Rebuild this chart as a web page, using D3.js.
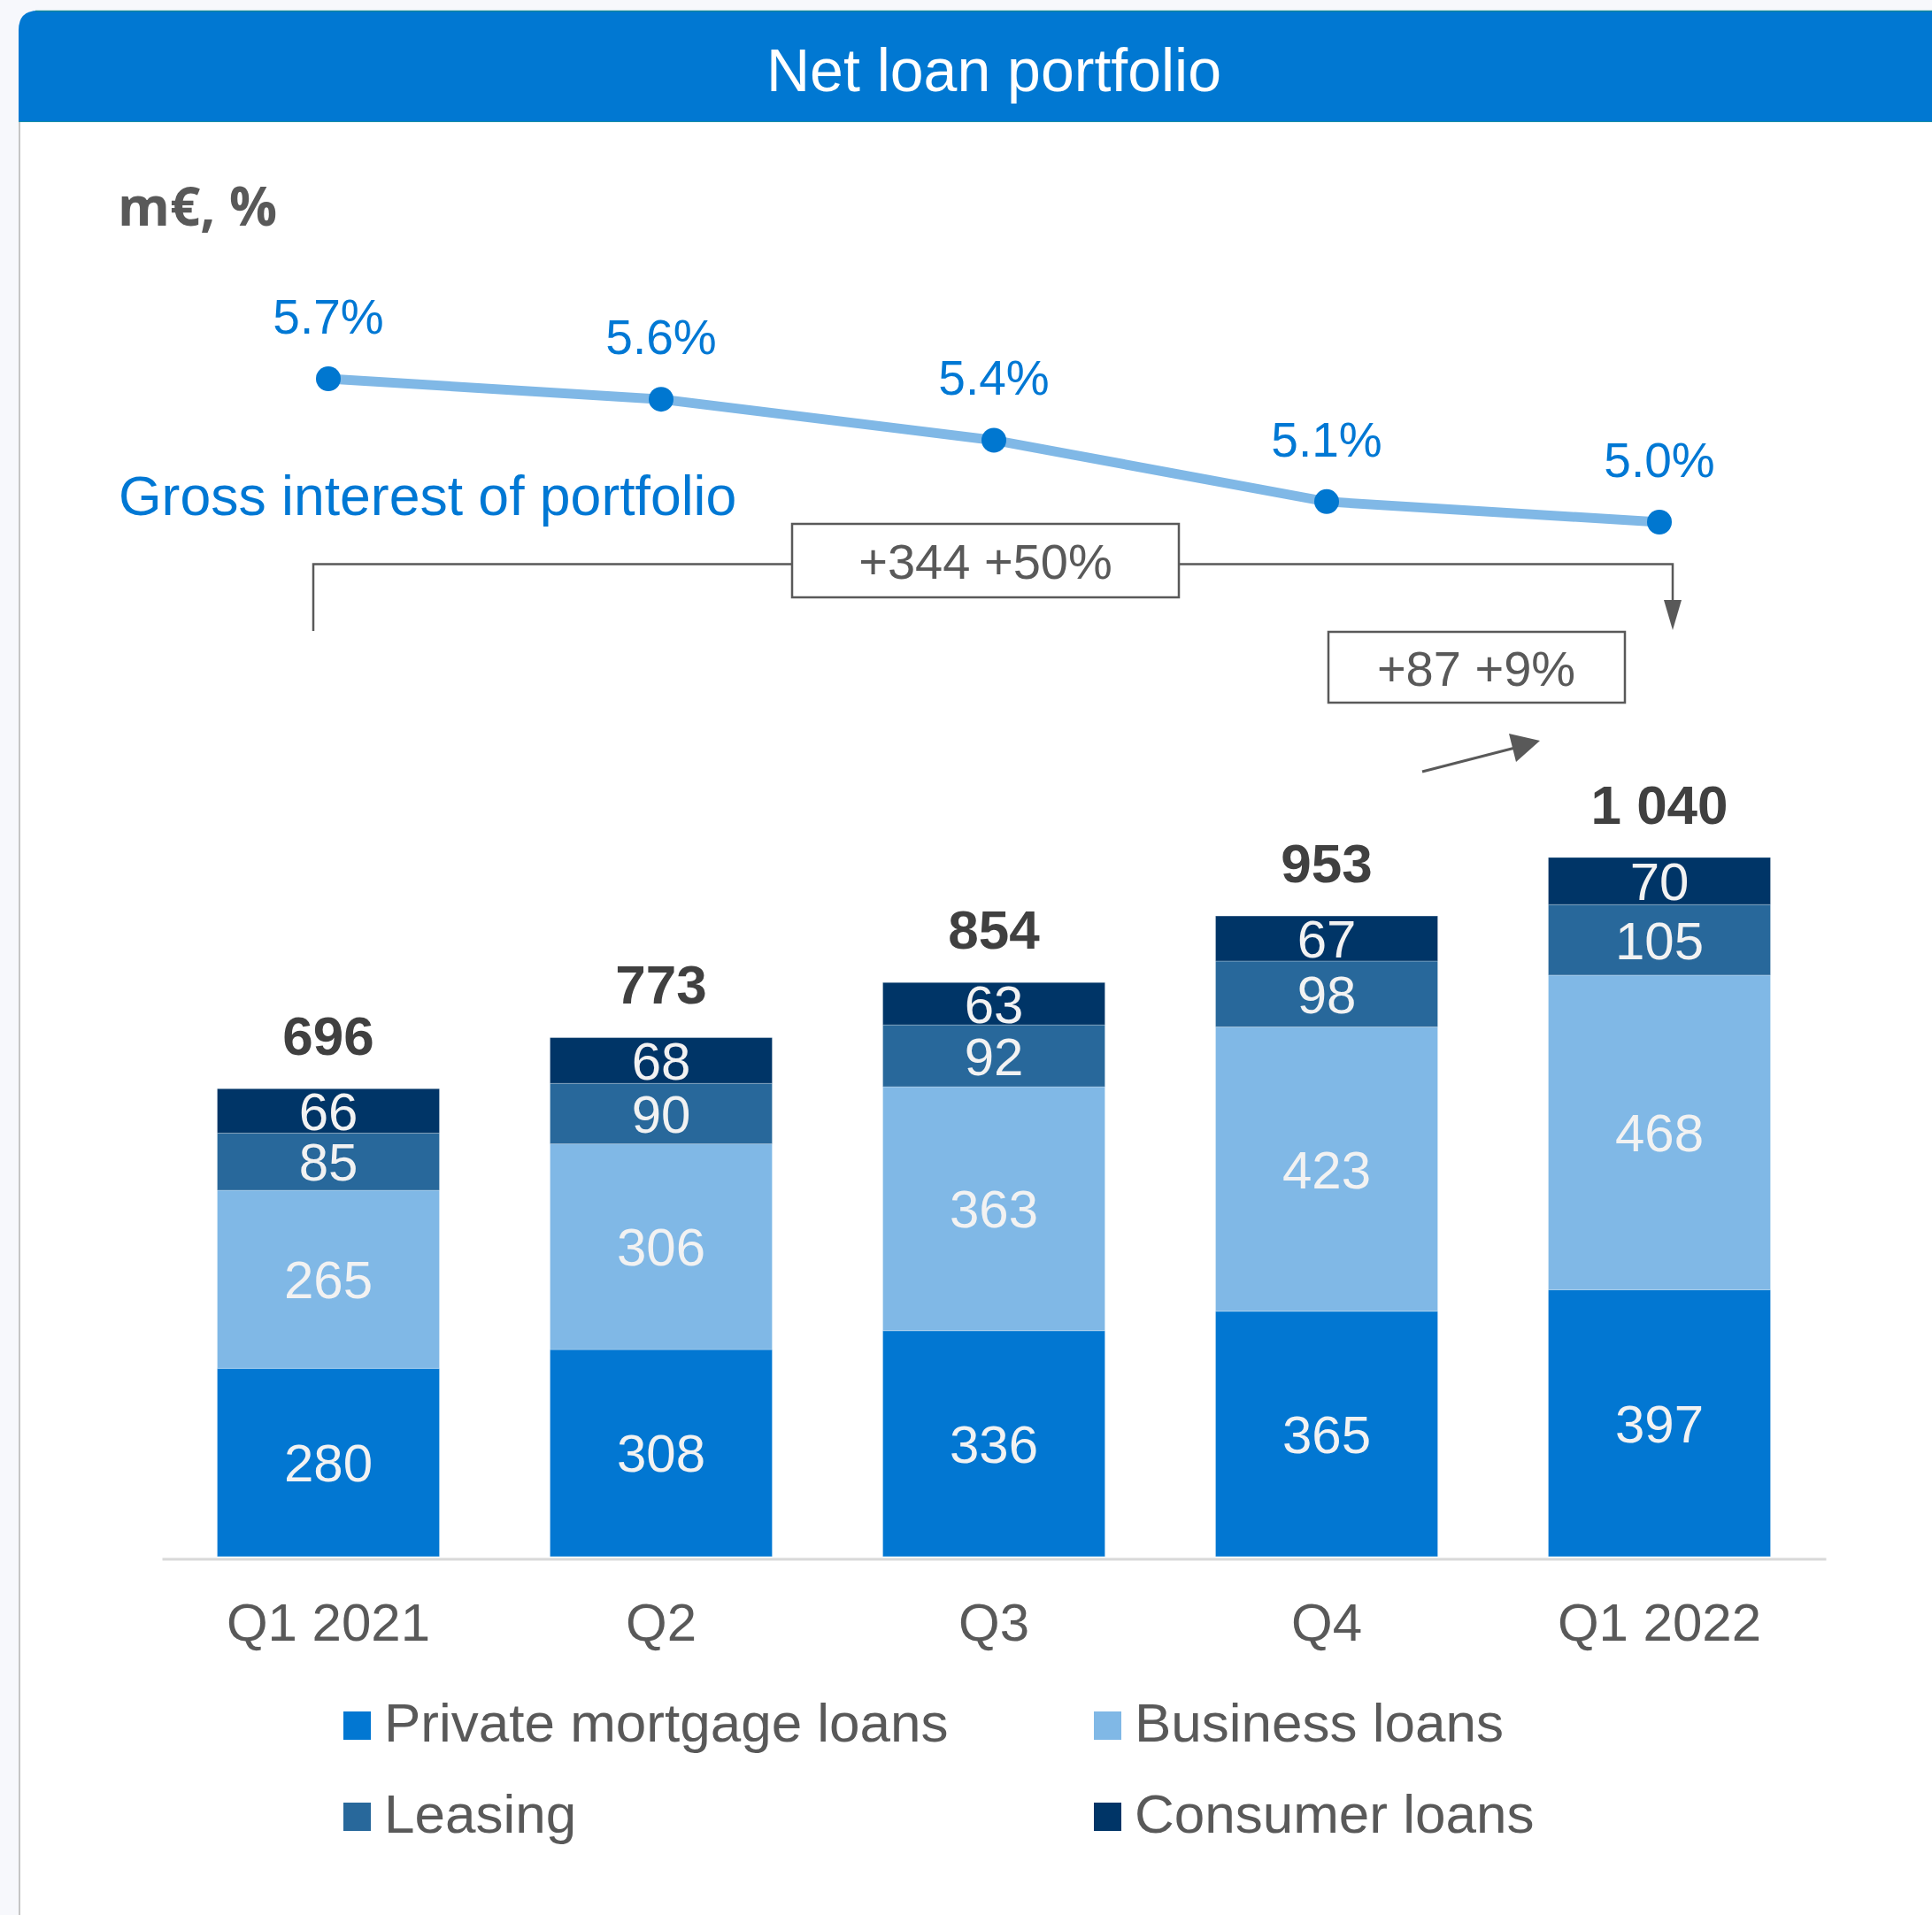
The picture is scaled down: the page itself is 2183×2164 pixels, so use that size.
<!DOCTYPE html>
<html>
<head>
<meta charset="utf-8">
<title>Net loan portfolio</title>
<script src="https://cdn.jsdelivr.net/npm/d3@7"></script>
<style>
  html, body { margin: 0; padding: 0; background: #f7f8fc; }
  svg { display: block; }
</style>
</head>
<body>
<svg id="chart" width="2183" height="2164"></svg>
<script>
// ---- data (m€, %) ----
const quarters = ["Q1 2021", "Q2", "Q3", "Q4", "Q1 2022"];
const mortgage = [280, 308, 336, 365, 397];
const business = [265, 306, 363, 423, 468];
const leasing  = [85, 90, 92, 98, 105];
const consumer = [66, 68, 63, 67, 70];
const totals   = [696, 773, 854, 953, 1040];
const grossInterest = [5.7, 5.6, 5.4, 5.1, 5.0];
const seriesNames = ["Private mortgage loans", "Business loans", "Leasing", "Consumer loans"];
const changeYear = "+344 +50%";
const changeQuarter = "+87 +9%";

// ---- styling ----
const W = 2183, H = 2164;
const FONT = "'Liberation Sans', Arial, Helvetica, sans-serif";
const seriesColors = ["#0277d2", "#80b8e6", "#28689b", "#003567"];
const GREY = "#595959";
const DARK = "#404040";
const BLUE = "#0078d4";

const svg = d3.select("#chart");

// ---- card and header ----
svg.append("rect").attr("x", 0).attr("y", 0).attr("width", W).attr("height", H).attr("fill", "#f7f8fc");
svg.append("rect").attr("x", 22).attr("y", 130).attr("width", W - 22).attr("height", H - 130).attr("fill", "#ffffff");
svg.append("line").attr("x1", 22).attr("x2", 22).attr("y1", 138).attr("y2", H)
  .attr("stroke", "#c6c6c6").attr("stroke-width", 2);
svg.append("path")
  .attr("d", `M21,138 V34 Q21,12 43,12 H${W} V138 Z`)
  .attr("fill", "#0178d2");
svg.append("line").attr("x1", 40).attr("x2", W).attr("y1", 12.5).attr("y2", 12.5)
  .attr("stroke", "#13879a").attr("stroke-width", 1.5);
svg.append("line").attr("x1", 21).attr("x2", W).attr("y1", 137.5).attr("y2", 137.5)
  .attr("stroke", "#1a8fa6").attr("stroke-width", 1.2);
svg.append("text")
  .attr("x", 1123).attr("y", 103)
  .attr("text-anchor", "middle")
  .attr("font-family", FONT).attr("font-size", 68).attr("fill", "#ffffff")
  .text("Net loan portfolio");

svg.append("text")
  .attr("x", 133).attr("y", 255)
  .attr("font-family", "'Open Sans', " + FONT).attr("font-weight", 700)
  .attr("font-size", 60).attr("fill", GREY)
  .text("m€, %");

// ---- scales ----
const x = d3.scaleBand()
  .domain(quarters)
  .range([183, 2063])
  .paddingInner(0.3324)
  .paddingOuter(0.1662);

const y = d3.scaleLinear()
  .domain([0, d3.max(totals)])
  .range([1759, 969]);

const yRate = d3.scaleLinear()
  .domain(d3.extent(grossInterest))
  .range([590, 428]);

// ---- stacked bars ----
const rows = quarters.map((q, i) => ({
  quarter: q, mortgage: mortgage[i], business: business[i], leasing: leasing[i], consumer: consumer[i]
}));
const keys = ["mortgage", "business", "leasing", "consumer"];
const stacked = d3.stack().keys(keys)(rows);

const layers = svg.append("g").selectAll("g")
  .data(stacked)
  .join("g")
  .attr("fill", (d, i) => seriesColors[i]);

layers.selectAll("rect")
  .data(d => d)
  .join("rect")
  .attr("x", d => x(d.data.quarter))
  .attr("width", x.bandwidth())
  .attr("y", d => y(d[1]))
  .attr("height", d => y(d[0]) - y(d[1]))
  .attr("stroke", "rgba(255,255,255,0.25)")
  .attr("stroke-width", 1);

// segment value labels, centred on each segment
const capHalf = 60 * 0.716 / 2;
layers.selectAll("text")
  .data(d => d.map(v => ({ v, key: d.key })))
  .join("text")
  .attr("x", d => x(d.v.data.quarter) + x.bandwidth() / 2)
  .attr("y", d => (y(d.v[0]) + y(d.v[1])) / 2 + capHalf)
  .attr("text-anchor", "middle")
  .attr("font-family", FONT).attr("font-size", 60)
  .attr("fill", "#f2f2f2")
  .text(d => d.v.data[d.key]);

// totals above each stack
const fmt = d3.formatLocale({ decimal: ".", thousands: " ", grouping: [3], currency: ["", "€"] }).format(",d");
svg.append("g").selectAll("text")
  .data(quarters)
  .join("text")
  .attr("x", q => x(q) + x.bandwidth() / 2)
  .attr("y", (q, i) => y(totals[i]) - 38)
  .attr("text-anchor", "middle")
  .attr("font-family", FONT).attr("font-weight", 700).attr("font-size", 62)
  .attr("fill", DARK)
  .text((q, i) => fmt(totals[i]));

// ---- category axis ----
const axis = svg.append("g")
  .attr("transform", "translate(0,1761.5)")
  .call(d3.axisBottom(x).tickSize(0).tickPadding(50));
axis.select(".domain").attr("stroke", "#d9d9d9").attr("stroke-width", 3);
axis.selectAll("text")
  .attr("font-family", FONT).attr("font-size", 60).attr("fill", GREY)
  .attr("dy", "0.71em");

// ---- gross interest line ----
const cx = q => x(q) + x.bandwidth() / 2;
const line = d3.line()
  .x((d, i) => cx(quarters[i]))
  .y(d => yRate(d));
svg.append("path")
  .datum(grossInterest)
  .attr("d", line)
  .attr("fill", "none")
  .attr("stroke", "#80b8e6")
  .attr("stroke-width", 11);
svg.append("g").selectAll("ellipse")
  .data(grossInterest)
  .join("ellipse")
  .attr("cx", (d, i) => cx(quarters[i]))
  .attr("cy", d => yRate(d))
  .attr("rx", 14).attr("ry", 14)
  .attr("fill", "#0077d0");
svg.append("g").selectAll("text")
  .data(grossInterest)
  .join("text")
  .attr("x", (d, i) => cx(quarters[i]))
  .attr("y", d => yRate(d) - 51)
  .attr("text-anchor", "middle")
  .attr("font-family", FONT).attr("font-size", 55)
  .attr("fill", BLUE)
  .text(d => d.toFixed(1) + "%");
svg.append("text")
  .attr("x", 134).attr("y", 582)
  .attr("font-family", FONT).attr("font-size", 62.5)
  .attr("fill", BLUE)
  .text("Gross interest of portfolio");

// ---- change annotations ----
const ann = svg.append("g").attr("stroke", GREY).attr("stroke-width", 2.5).attr("fill", "none");
const xFirst = 354, xLast = 1890, yBracket = 637.5;
ann.append("path")
  .attr("d", `M${xFirst},713 V${yBracket} H${xLast} V682`);
svg.append("path")
  .attr("d", `M${xLast - 10},678 L${xLast + 10},678 L${xLast},712 Z`)
  .attr("fill", GREY);

// year-on-year box
svg.append("rect")
  .attr("x", 895).attr("y", 592).attr("width", 437).attr("height", 83)
  .attr("fill", "#ffffff").attr("stroke", GREY).attr("stroke-width", 2.5);
svg.append("text")
  .attr("x", 1113.5).attr("y", 654)
  .attr("text-anchor", "middle")
  .attr("font-family", FONT).attr("font-size", 56).attr("fill", GREY)
  .text(changeYear);

// quarter-on-quarter box and arrow
svg.append("rect")
  .attr("x", 1501).attr("y", 714).attr("width", 335).attr("height", 80)
  .attr("fill", "#ffffff").attr("stroke", GREY).attr("stroke-width", 2.5);
svg.append("text")
  .attr("x", 1668).attr("y", 775)
  .attr("text-anchor", "middle")
  .attr("font-family", FONT).attr("font-size", 56).attr("fill", GREY)
  .text(changeQuarter);
svg.append("line")
  .attr("x1", 1607).attr("y1", 872).attr("x2", 1712).attr("y2", 845)
  .attr("stroke", GREY).attr("stroke-width", 3);
svg.append("path")
  .attr("d", "M1740,837 L1705,829 L1713,861 Z")
  .attr("fill", GREY);

// ---- legend ----
const legendPos = [
  { col: 388, row: 1968 }, { col: 1236, row: 1968 },
  { col: 388, row: 2071 }, { col: 1236, row: 2071 }
];
const legend = svg.append("g").selectAll("g")
  .data(seriesNames)
  .join("g")
  .attr("transform", (d, i) => `translate(${legendPos[i].col},${legendPos[i].row})`);
legend.append("rect")
  .attr("x", 0).attr("y", -34).attr("width", 31).attr("height", 32)
  .attr("fill", (d, i) => seriesColors[i]);
legend.append("text")
  .attr("x", 46).attr("y", 0)
  .attr("font-family", FONT).attr("font-size", 62).attr("fill", GREY)
  .text(d => d);
</script>
</body>
</html>
